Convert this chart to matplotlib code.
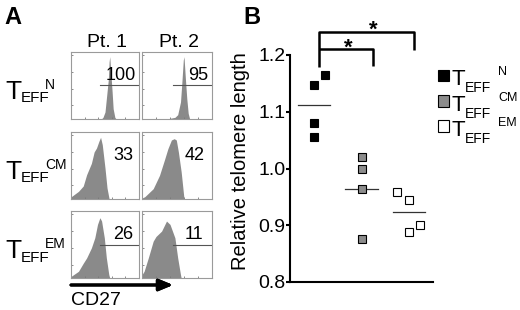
import numpy as np
import matplotlib
matplotlib.use("Agg")
import matplotlib.pyplot as plt
from matplotlib.patches import Rectangle

plt.rcParams['font.family'] = ['Liberation Sans', 'DejaVu Sans']

# ---- panel A data: CD27 histograms (x as fraction of axis, height as fraction) ----
patients = ['Pt. 1', 'Pt. 2']
subsets = ['N', 'CM', 'EM']
cd27_pct = [[100, 95], [33, 42], [26, 11]]

n_pt1_x = [0.45, 0.47, 0.50, 0.52, 0.55, 0.56, 0.57, 0.585, 0.605, 0.62, 0.645, 0.66]
n_pt1_h = [0.0, 0.02, 0.10, 0.30, 0.60, 0.85, 0.93, 0.70, 0.40, 0.15, 0.02, 0.0]
n_pt2_x = [0.37, 0.47, 0.51, 0.55, 0.57, 0.59, 0.60, 0.62, 0.64, 0.66, 0.68]
n_pt2_h = [0.0, 0.02, 0.06, 0.25, 0.55, 0.88, 0.93, 0.60, 0.30, 0.08, 0.0]
cm_pt1_x = [0.0, 0.01, 0.11, 0.18, 0.23, 0.30, 0.34, 0.375, 0.41, 0.435, 0.46, 0.50, 0.53, 0.56]
cm_pt1_h = [0.02, 0.035, 0.11, 0.19, 0.36, 0.53, 0.70, 0.76, 0.86, 0.92, 0.81, 0.46, 0.16, 0.0]
cm_pt2_x = [0.0, 0.04, 0.16, 0.25, 0.32, 0.37, 0.42, 0.46, 0.49, 0.52, 0.56, 0.59, 0.60]
cm_pt2_h = [0.01, 0.03, 0.15, 0.35, 0.58, 0.75, 0.88, 0.90, 0.88, 0.70, 0.40, 0.10, 0.0]
em_pt1_x = [0.0, 0.01, 0.11, 0.18, 0.23, 0.30, 0.35, 0.39, 0.425, 0.45, 0.49, 0.52, 0.556, 0.57]
em_pt1_h = [0.02, 0.03, 0.10, 0.22, 0.30, 0.45, 0.60, 0.80, 0.90, 0.85, 0.60, 0.30, 0.05, 0.0]
em_pt2_x = [0.0, 0.03, 0.09, 0.16, 0.20, 0.28, 0.35, 0.40, 0.47, 0.51, 0.55, 0.56]
em_pt2_h = [0.05, 0.10, 0.30, 0.55, 0.62, 0.70, 0.85, 0.80, 0.60, 0.30, 0.05, 0.0]

hist_x = [[n_pt1_x, n_pt2_x], [cm_pt1_x, cm_pt2_x], [em_pt1_x, em_pt2_x]]
hist_h = [[n_pt1_h, n_pt2_h], [cm_pt1_h, cm_pt2_h], [em_pt1_h, em_pt2_h]]

# ---- panel B data: relative telomere length ----
telo_naive = [1.147, 1.165, 1.081, 1.056]
telo_cm = [1.020, 0.999, 0.964, 0.876]
telo_em = [0.958, 0.944, 0.888, 0.900]
yticks = [0.8, 0.9, 1.0, 1.1, 1.2]

W, H = 520, 310
fig = plt.figure(figsize=(W / 100, H / 100), dpi=100)


def rect(x0, y0, x1, y1):
    return [x0 / W, 1 - y1 / H, (x1 - x0) / W, (y1 - y0) / H]


def ftext(x, y, s, **kw):
    return fig.text(x / W, 1 - y / H, s, **kw)


def teff_label(x, y, sup, big, sub, small, dx_sub, dx_sup, dy_sub, dy_sup):
    ftext(x, y, 'T', fontsize=big, va='baseline')
    ftext(x + dx_sub, y + dy_sub, 'EFF', fontsize=sub, va='baseline')
    ftext(x + dx_sup, y + dy_sup, sup, fontsize=small, va='baseline')


hist_grey = '#8a8a8a'

# Panel A
ftext(4, 24, 'A', fontsize=17, fontweight='bold', va='baseline')
col_x = [(71, 139), (142, 212)]
row_y = [(52, 118.7), (132, 198.7), (211, 278)]
num_x = [[0.96, 0.95], [0.91, 0.89], [0.92, 0.87]]
gate_start = [0.42, 0.44]

for j, name in enumerate(patients):
    ftext((col_x[j][0] + col_x[j][1]) / 2 + 2, 46.7, name, fontsize=14,
          ha='center', va='baseline')

for i in range(3):
    for j in range(2):
        ax = fig.add_axes(rect(col_x[j][0], row_y[i][0], col_x[j][1], row_y[i][1]))
        ax.fill_between(hist_x[i][j], hist_h[i][j], 0, color=hist_grey, lw=0)
        ax.set_xlim(0, 1)
        ax.set_ylim(0, 1)
        for s in ax.spines.values():
            s.set_color('#9a9a9a')
            s.set_linewidth(0.8)
        ax.set_xticks([0.2, 0.4, 0.6, 0.8])
        ax.set_yticks([0.2, 0.45, 0.7, 0.95])
        ax.tick_params(direction='in', length=1.5, width=0.6, color='#777777',
                       labelleft=False, labelbottom=False)
        if i != 1:
            ax.plot([gate_start[j], 1], [0.5, 0.5], color='#555555', lw=0.8)
        ax.text(num_x[i][j], 0.58, str(cd27_pct[i][j]), transform=ax.transAxes,
                fontsize=13, ha='right', va='baseline')
    teff_label(5, row_y[i][1] - 20, subsets[i], 19, 11, 10, 15.5, 40, 3.5, -9.5)

# CD27 arrow
fig.add_artist(plt.annotate('', xy=(173, H - 285), xytext=(71, H - 285),
                            xycoords='figure pixels', textcoords='figure pixels',
                            arrowprops=dict(arrowstyle='-|>,head_length=0.6,head_width=0.25',
                                            lw=2.2, color='black', mutation_scale=14,
                                            shrinkA=0, shrinkB=0)))
ftext(71, 305, 'CD27', fontsize=14, va='baseline')

# Panel B
ftext(243, 24, 'B', fontsize=17, fontweight='bold', va='baseline')
axb = fig.add_axes(rect(290, 55, 433, 282))
groups = [telo_naive, telo_cm, telo_em]
fills = ['black', '#8c8c8c', 'white']
jitter = [[0, 0.23, 0, 0], [0, 0, 0, 0], [-0.25, 0, 0, 0.23]]
for g, (vals, fc) in enumerate(zip(groups, fills)):
    xs = np.array(jitter[g]) + g + 1
    axb.plot(xs, vals, ls='none', marker='s', ms=6, mfc=fc, mec='black', mew=0.8,
             clip_on=False, zorder=3)
    m = np.mean(vals)
    axb.plot([g + 1 - 0.34, g + 1 + 0.34], [m, m], color='#333333', lw=0.9, zorder=2)

axb.set_xlim(0.5, 3.5)
axb.set_ylim(0.8, 1.2)
axb.set_yticks(yticks)
axb.set_yticklabels([f'{v:.1f}' for v in yticks])
axb.set_xticks([])
axb.spines['top'].set_visible(False)
axb.spines['right'].set_visible(False)
axb.spines['left'].set_linewidth(1.5)
axb.spines['bottom'].set_linewidth(1.5)
axb.tick_params(axis='y', length=3, width=1.5, pad=0.5, labelsize=14)
ftext(241, 161, 'Relative telomere length', fontsize=14.5, rotation=90,
      ha='center', va='center')

# significance brackets
bk = dict(color='black', lw=1.8, clip_on=False, solid_capstyle='butt')
axb.plot([1.1, 1.1, 3.1, 3.1], [1.179, 1.241, 1.241, 1.209], **bk)
axb.plot([1.1, 2.24, 2.24], [1.210, 1.210, 1.181], **bk)
axb.text(2.24, 1.234, '*', fontsize=16, fontweight='bold', ha='center', va='baseline')
axb.text(1.72, 1.203, '*', fontsize=16, fontweight='bold', ha='center', va='baseline')

# legend
sq_y = [75.3, 101, 126]
for k in range(3):
    fig.add_artist(Rectangle((438 / W, 1 - (sq_y[k] + 5.5) / H), 11 / W, 11 / H,
                             transform=fig.transFigure, fc=fills[k], ec='black', lw=0.8))
    teff_label(452, sq_y[k] + 10, subsets[k], 16, 10, 9, 12.5, 46, 7, -10)

fig.savefig('out.png', dpi=100)
